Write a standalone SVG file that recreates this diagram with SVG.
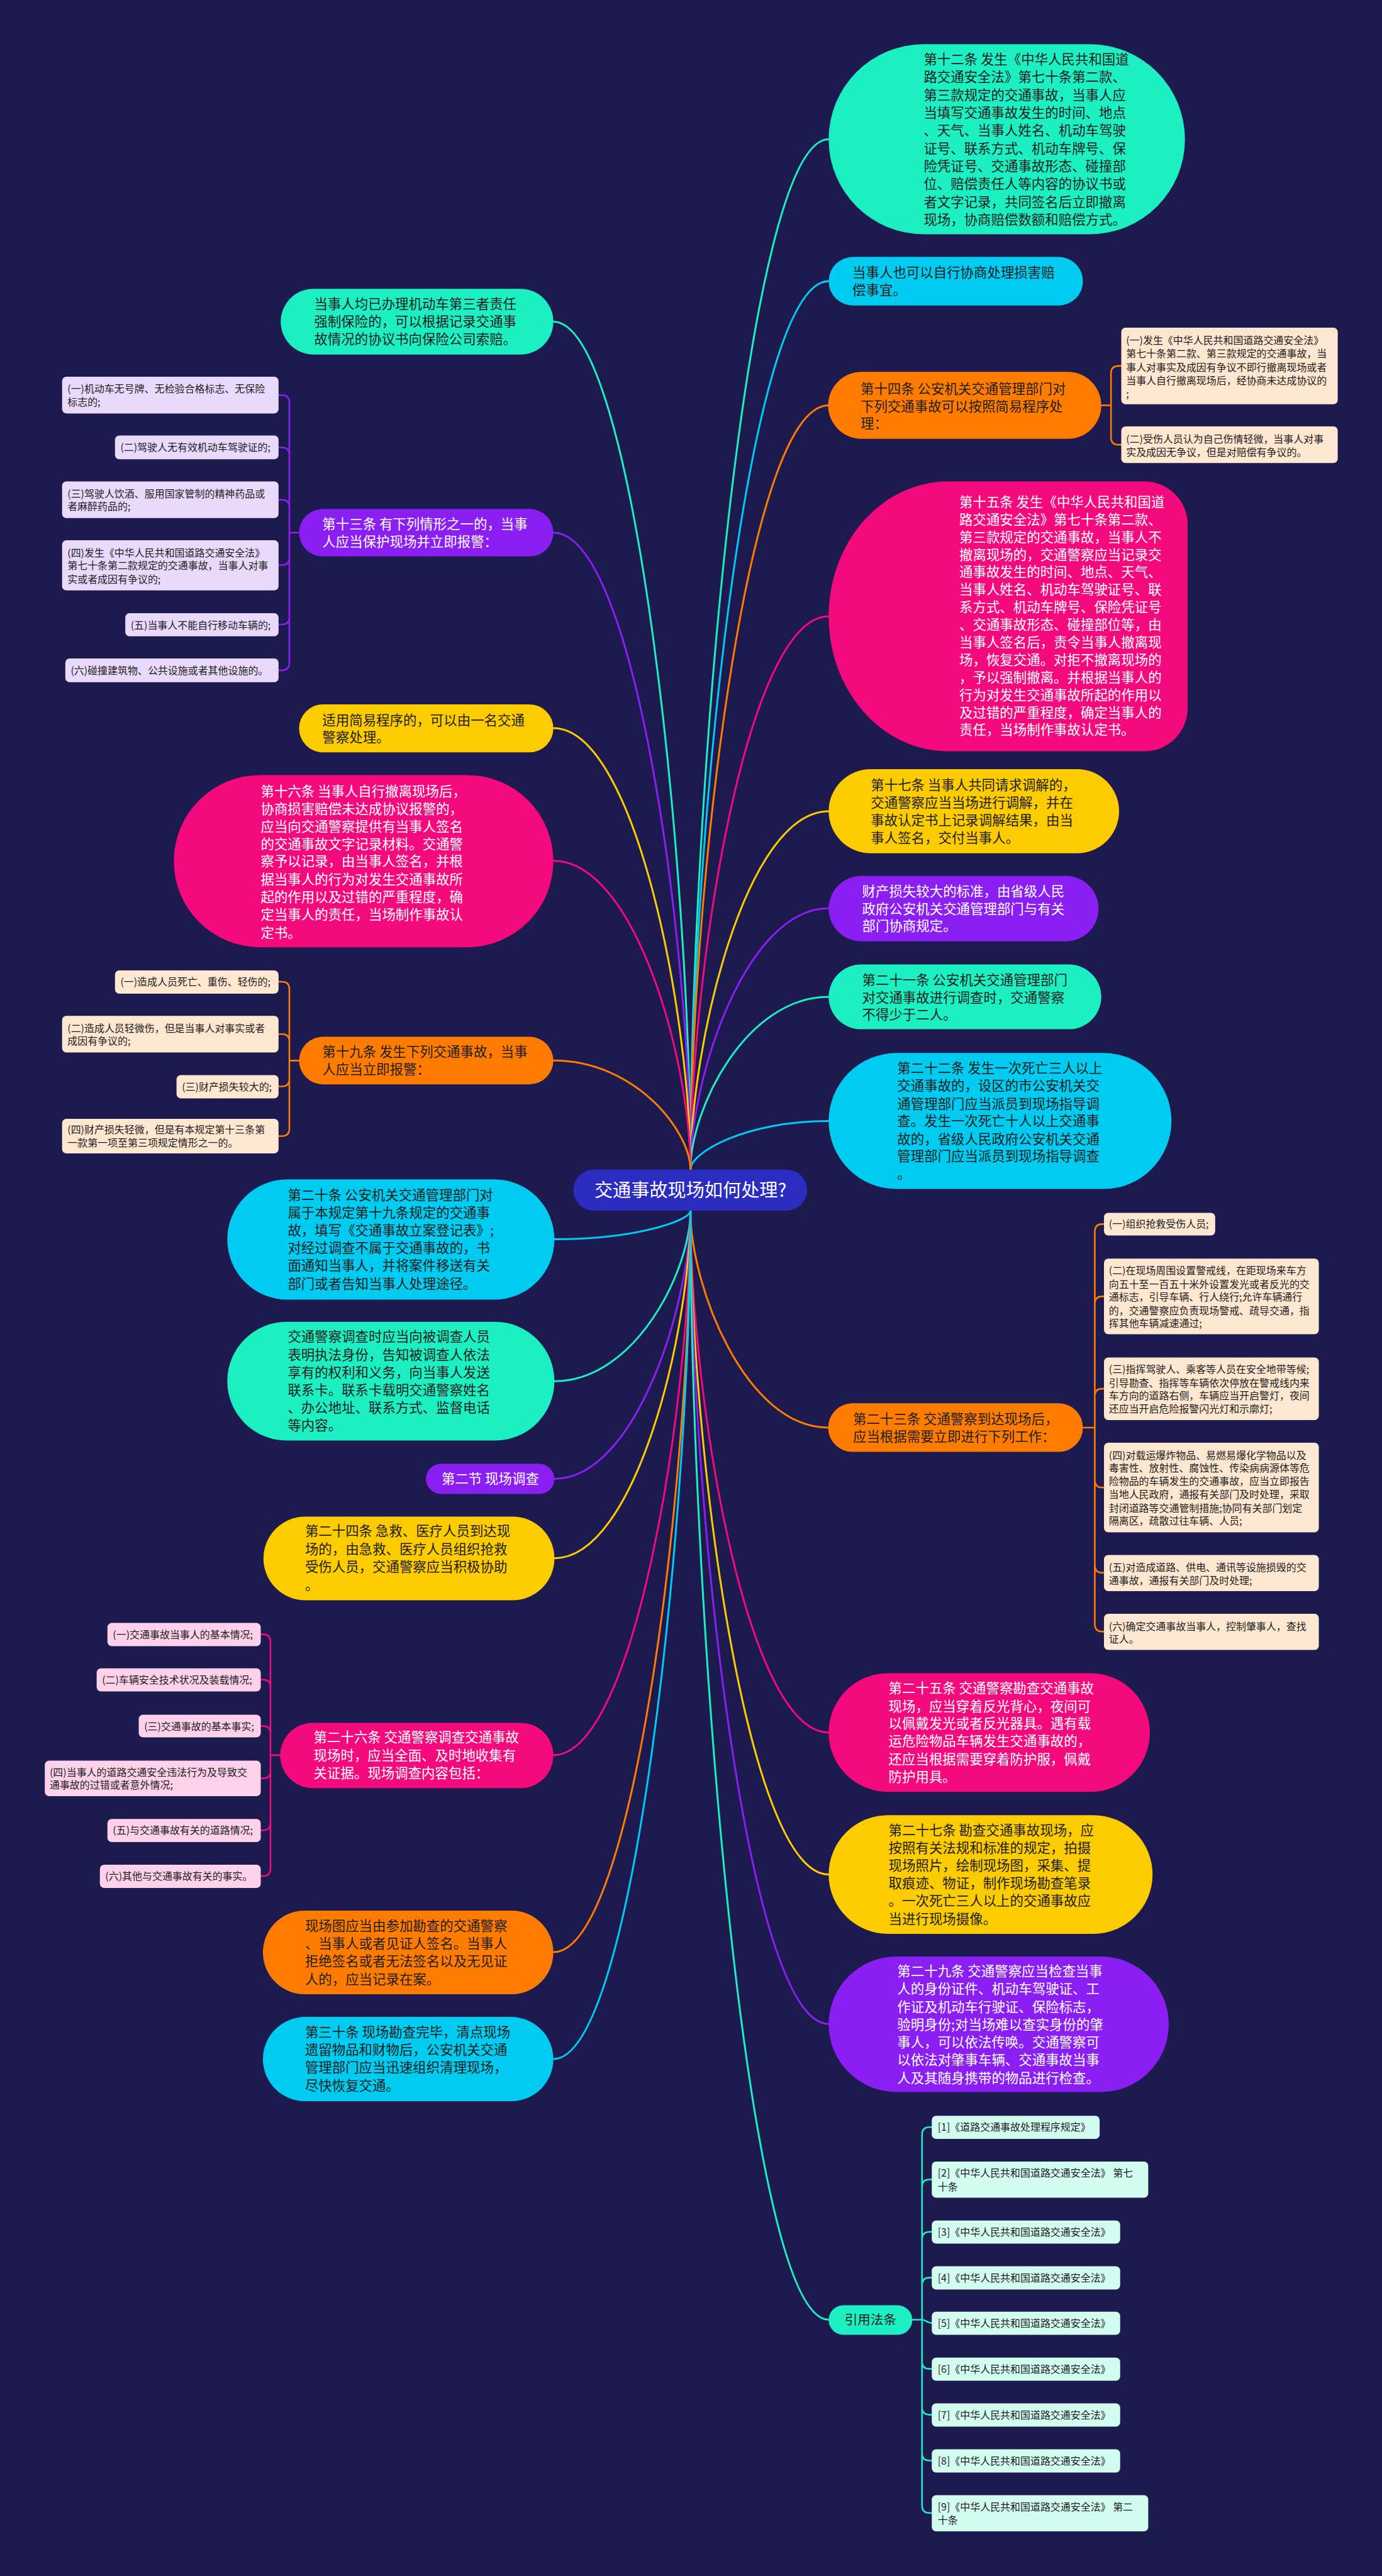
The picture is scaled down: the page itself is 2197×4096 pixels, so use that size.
<svg xmlns="http://www.w3.org/2000/svg" width="2197" height="4096" viewBox="0 0 2197 4096">
<style>
text{font-family:"Noto Sans CJK SC","Microsoft YaHei",sans-serif}
.f25{font-size:25px}.f19{font-size:18.6px}.f24{font-size:24px}.f34{font-size:34px}
.w{fill:#ffffff}.d{fill:#1e1e1e}
.G{fill:#1cf0c2}.C{fill:#00cbf0}.O{fill:#ff7c00}.P{fill:#f50a7d}.Y{fill:#fdcc00}.V{fill:#8b1ef2}
.kO{fill:#fde7d0}.kV{fill:#e9d9fb}.kP{fill:#fdd1ea}.kG{fill:#d3fcf0}
.cn path{fill:none;stroke-width:3.5;stroke-linecap:round}
.ch path{fill:none;stroke-width:3;stroke-linecap:round}
.sG{stroke:#1cf0c2}.sC{stroke:#00cbf0}.sO{stroke:#ff7c00}.sP{stroke:#f50a7d}.sY{stroke:#fdcc00}.sV{stroke:#8b1ef2}
</style>
<rect width="2197" height="4096" fill="#1c1a4f"/>
<g transform="scale(0.858203)">
<g id="connectors" class="cn">
<path class="sG" d="M1279,2167 C1279,1499 1381,258 1535,258"/>
<path class="sC" d="M1279,2167 C1279,1591 1381,521 1535,521"/>
<path class="sO" d="M1279,2167 C1279,1671 1381,751 1535,751"/>
<path class="sP" d="M1279,2167 C1279,1808 1381,1142 1535,1142"/>
<path class="sY" d="M1279,2167 C1279,1935 1381,1503 1535,1503"/>
<path class="sV" d="M1279,2167 C1279,1998 1381,1683 1535,1683"/>
<path class="sG" d="M1279,2167 C1279,2055 1381,1847 1535,1847"/>
<path class="sC" d="M1279,2167 C1279,2135 1381,2077 1535,2077"/>
<path class="sO" d="M1279,2243 C1279,2384 1381,2645 1534,2645"/>
<path class="sP" d="M1279,2243 C1279,2581 1381,3210 1535,3210"/>
<path class="sY" d="M1279,2243 C1279,2673 1381,3473 1535,3473"/>
<path class="sV" d="M1279,2243 C1279,2771 1381,3750 1535,3750"/>
<path class="sG" d="M1279,2243 C1279,2962 1381,4298 1535,4298"/>
<path class="sG" d="M1279,2167 C1279,1617 1177,596 1025,596"/>
<path class="sV" d="M1279,2167 C1279,1754 1177,987 1025,987"/>
<path class="sY" d="M1279,2167 C1279,1881 1177,1349 1025,1349"/>
<path class="sP" d="M1279,2167 C1279,1967 1177,1595 1025,1595"/>
<path class="sO" d="M1279,2167 C1279,2096 1177,1965 1025,1965"/>
<path class="sC" d="M1279,2243 C1279,2262 1177,2296 1027,2296"/>
<path class="sG" d="M1279,2243 C1279,2354 1177,2559 1027,2559"/>
<path class="sV" d="M1279,2243 C1279,2417 1177,2740 1027,2740"/>
<path class="sY" d="M1279,2243 C1279,2469 1177,2887 1027,2887"/>
<path class="sP" d="M1279,2243 C1279,2596 1177,3252 1025,3252"/>
<path class="sO" d="M1279,2243 C1279,2724 1177,3617 1025,3617"/>
<path class="sC" d="M1279,2243 C1279,2793 1177,3815 1025,3815"/>
</g>
<g id="child-connectors" class="ch">
<path class="sO" d="M2040,751 H2058 M2058,751 V692 Q2058,678 2072,678 H2077 M2058,751 V810 Q2058,824 2072,824 H2077"/>
<path class="sO" d="M2006,2645 H2028 M2028,2645 V2282 Q2028,2268 2042,2268 H2045 M2028,2645 V2416 Q2028,2402 2042,2402 H2045 M2028,2645 V2587 Q2028,2573 2042,2573 H2045 M2028,2645 V2742 Q2028,2756 2042,2756 H2045 M2028,2645 V2900 Q2028,2914 2042,2914 H2045 M2028,2645 V3009 Q2028,3023 2042,3023 H2045"/>
<path class="sG" d="M1690,4298 H1708 M1708,4298 V3955 Q1708,3941 1722,3941 H1726 M1708,4298 V4052 Q1708,4038 1722,4038 H1726 M1708,4298 V4149 Q1708,4135 1722,4135 H1726 M1708,4298 V4234 Q1708,4220 1722,4220 H1726 M1708,4298 C1716,4298 1716,4304 1726,4304 M1708,4298 V4375 Q1708,4389 1722,4389 H1726 M1708,4298 V4460 Q1708,4474 1722,4474 H1726 M1708,4298 V4545 Q1708,4559 1722,4559 H1726 M1708,4298 V4642 Q1708,4656 1722,4656 H1726"/>
<path class="sV" d="M554,987 H536 M536,987 V746 Q536,732 522,732 H516 M536,987 V843 Q536,829 522,829 H516 M536,987 V940 Q536,926 522,926 H516 M536,987 V1033 Q536,1047 522,1047 H516 M536,987 V1143 Q536,1157 522,1157 H516 M536,987 V1228 Q536,1242 522,1242 H516"/>
<path class="sO" d="M554,1965 H536 M536,1965 V1833 Q536,1819 522,1819 H516 M536,1965 V1930 Q536,1916 522,1916 H516 M536,1965 V1999 Q536,2013 522,2013 H516 M536,1965 V2091 Q536,2105 522,2105 H516"/>
<path class="sP" d="M519,3252 H501 M501,3252 V3042 Q501,3028 487,3028 H483 M501,3252 V3126 Q501,3112 487,3112 H483 M501,3252 V3212 Q501,3198 487,3198 H483 M501,3252 V3281 Q501,3295 487,3295 H483 M501,3252 V3377 Q501,3391 487,3391 H483 M501,3252 V3462 Q501,3476 487,3476 H483"/>
</g>

<g id="center">
<rect x="1062" y="2167" width="433" height="76" rx="38" fill="#2b2cc0"/>
<text class="f34 w" x="1279" y="2217" text-anchor="middle">交通事故现场如何处理?</text>
</g>

<g id="r1">
<rect class="G" x="1535" y="82" width="660" height="352" rx="176"/>
<text class="f25 d" x="1711"><tspan x="1711" y="119">第十二条 发生《中华人民共和国道</tspan><tspan x="1711" y="152">路交通安全法》第七十条第二款、</tspan><tspan x="1711" y="185">第三款规定的交通事故，当事人应</tspan><tspan x="1711" y="218">当填写交通事故发生的时间、地点</tspan><tspan x="1711" y="251">、天气、当事人姓名、机动车驾驶</tspan><tspan x="1711" y="284">证号、联系方式、机动车牌号、保</tspan><tspan x="1711" y="317">险凭证号、交通事故形态、碰撞部</tspan><tspan x="1711" y="350">位、赔偿责任人等内容的协议书或</tspan><tspan x="1711" y="383">者文字记录，共同签名后立即撤离</tspan><tspan x="1711" y="416">现场，协商赔偿数额和赔偿方式。</tspan></text>
</g>
<g id="r2">
<rect class="C" x="1535" y="476" width="471" height="90" rx="45"/>
<text class="f25 d"><tspan x="1579" y="514">当事人也可以自行协商处理损害赔</tspan><tspan x="1579" y="547">偿事宜。</tspan></text>
</g>
<g id="r3">
<rect class="O" x="1534" y="689" width="506" height="124" rx="62"/>
<text class="f25 d"><tspan x="1594" y="729">第十四条 公安机关交通管理部门对</tspan><tspan x="1594" y="761.5">下列交通事故可以按照简易程序处</tspan><tspan x="1594" y="794">理：</tspan></text>
</g>
<g id="r3a">
<rect class="kO" x="2077" y="607" width="401" height="142" rx="8"/>
<text class="f19 d"><tspan x="2086" y="637">(一)发生《中华人民共和国道路交通安全法》</tspan><tspan x="2086" y="662">第七十条第二款、第三款规定的交通事故，当</tspan><tspan x="2086" y="687">事人对事实及成因有争议不即行撤离现场或者</tspan><tspan x="2086" y="712">当事人自行撤离现场后，经协商未达成协议的</tspan><tspan x="2086" y="737">;</tspan></text>
</g>
<g id="r3b">
<rect class="kO" x="2077" y="790" width="401" height="68" rx="8"/>
<text class="f19 d"><tspan x="2086" y="820">(二)受伤人员认为自己伤情轻微，当事人对事</tspan><tspan x="2086" y="845">实及成因无争议，但是对赔偿有争议的。</tspan></text>
</g>
<g id="r4">
<path class="P" d="M1756,892 H2120 A80,80 0 0 1 2200,972 V1312 A80,80 0 0 1 2120,1392 H1756 A221,250 0 0 1 1535,1142 A221,250 0 0 1 1756,892 Z"/>
<text class="f25 w"><tspan x="1777" y="939">第十五条 发生《中华人民共和国道</tspan><tspan x="1777" y="971.5">路交通安全法》第七十条第二款、</tspan><tspan x="1777" y="1004">第三款规定的交通事故，当事人不</tspan><tspan x="1777" y="1036.5">撤离现场的，交通警察应当记录交</tspan><tspan x="1777" y="1069">通事故发生的时间、地点、天气、</tspan><tspan x="1777" y="1101.5">当事人姓名、机动车驾驶证号、联</tspan><tspan x="1777" y="1134">系方式、机动车牌号、保险凭证号</tspan><tspan x="1777" y="1166.5">、交通事故形态、碰撞部位等，由</tspan><tspan x="1777" y="1199">当事人签名后，责令当事人撤离现</tspan><tspan x="1777" y="1231.5">场，恢复交通。对拒不撤离现场的</tspan><tspan x="1777" y="1264">，予以强制撤离。并根据当事人的</tspan><tspan x="1777" y="1296.5">行为对发生交通事故所起的作用以</tspan><tspan x="1777" y="1329">及过错的严重程度，确定当事人的</tspan><tspan x="1777" y="1361.5">责任，当场制作事故认定书。</tspan></text>
</g>
<g id="r5">
<rect class="Y" x="1535" y="1425" width="538" height="156" rx="78"/>
<text class="f25 d"><tspan x="1613" y="1464">第十七条 当事人共同请求调解的，</tspan><tspan x="1613" y="1496.5">交通警察应当当场进行调解，并在</tspan><tspan x="1613" y="1529">事故认定书上记录调解结果，由当</tspan><tspan x="1613" y="1561.5">事人签名，交付当事人。</tspan></text>
</g>
<g id="r6">
<rect class="V" x="1535" y="1623" width="500" height="121" rx="60.5"/>
<text class="f25 w"><tspan x="1597" y="1660">财产损失较大的标准，由省级人民</tspan><tspan x="1597" y="1692.5">政府公安机关交通管理部门与有关</tspan><tspan x="1597" y="1725">部门协商规定。</tspan></text>
</g>
<g id="r7">
<rect class="G" x="1535" y="1787" width="505" height="120" rx="60"/>
<text class="f25 d"><tspan x="1597" y="1825">第二十一条 公安机关交通管理部门</tspan><tspan x="1597" y="1857">对交通事故进行调查时，交通警察</tspan><tspan x="1597" y="1889">不得少于二人。</tspan></text>
</g>
<g id="r8">
<rect class="C" x="1535" y="1951" width="635" height="252" rx="126"/>
<text class="f25 d"><tspan x="1662" y="1988">第二十二条 发生一次死亡三人以上</tspan><tspan x="1662" y="2021">交通事故的，设区的市公安机关交</tspan><tspan x="1662" y="2054">通管理部门应当派员到现场指导调</tspan><tspan x="1662" y="2086">查。发生一次死亡十人以上交通事</tspan><tspan x="1662" y="2119">故的，省级人民政府公安机关交通</tspan><tspan x="1662" y="2151.5">管理部门应当派员到现场指导调查</tspan><tspan x="1662" y="2184">。</tspan></text>
</g>
<g id="r9">
<rect class="O" x="1534" y="2600" width="472" height="90" rx="45"/>
<text class="f25 d"><tspan x="1580" y="2638">第二十三条 交通警察到达现场后，</tspan><tspan x="1580" y="2671">应当根据需要立即进行下列工作：</tspan></text>
</g>
<g id="r9c1">
<rect class="kO" x="2045" y="2247" width="206" height="42" rx="8"/>
<text class="f19 d" x="2054" y="2275">(一)组织抢救受伤人员;</text>
</g>
<g id="r9c2">
<rect class="kO" x="2045" y="2332" width="398" height="140" rx="8"/>
<text class="f19 d"><tspan x="2054" y="2361">(二)在现场周围设置警戒线，在距现场来车方</tspan><tspan x="2054" y="2386">向五十至一百五十米外设置发光或者反光的交</tspan><tspan x="2054" y="2410">通标志，引导车辆、行人绕行;允许车辆通行</tspan><tspan x="2054" y="2435">的，交通警察应负责现场警戒、疏导交通，指</tspan><tspan x="2054" y="2459">挥其他车辆减速通过;</tspan></text>
</g>
<g id="r9c3">
<rect class="kO" x="2045" y="2515" width="398" height="116" rx="8"/>
<text class="f19 d"><tspan x="2054" y="2544">(三)指挥驾驶人、乘客等人员在安全地带等候;</tspan><tspan x="2054" y="2569">引导勘查、指挥等车辆依次停放在警戒线内来</tspan><tspan x="2054" y="2593">车方向的道路右侧，车辆应当开启警灯，夜间</tspan><tspan x="2054" y="2617">还应当开启危险报警闪光灯和示廓灯;</tspan></text>
</g>
<g id="r9c4">
<rect class="kO" x="2045" y="2673" width="398" height="166" rx="8"/>
<text class="f19 d"><tspan x="2054" y="2703">(四)对载运爆炸物品、易燃易爆化学物品以及</tspan><tspan x="2054" y="2727">毒害性、放射性、腐蚀性、传染病病源体等危</tspan><tspan x="2054" y="2751">险物品的车辆发生的交通事故，应当立即报告</tspan><tspan x="2054" y="2776">当地人民政府，通报有关部门及时处理，采取</tspan><tspan x="2054" y="2801">封闭道路等交通管制措施;协同有关部门划定</tspan><tspan x="2054" y="2825">隔离区，疏散过往车辆、人员;</tspan></text>
</g>
<g id="r9c5">
<rect class="kO" x="2045" y="2881" width="398" height="67" rx="8"/>
<text class="f19 d"><tspan x="2054" y="2911">(五)对造成道路、供电、通讯等设施损毁的交</tspan><tspan x="2054" y="2935">通事故，通报有关部门及时处理;</tspan></text>
</g>
<g id="r9c6">
<rect class="kO" x="2045" y="2990" width="398" height="67" rx="8"/>
<text class="f19 d"><tspan x="2054" y="3020">(六)确定交通事故当事人，控制肇事人，查找</tspan><tspan x="2054" y="3043">证人。</tspan></text>
</g>
<g id="r10">
<rect class="P" x="1535" y="3100" width="595" height="220" rx="110"/>
<text class="f25 w"><tspan x="1646" y="3137">第二十五条 交通警察勘查交通事故</tspan><tspan x="1646" y="3170">现场，应当穿着反光背心，夜间可</tspan><tspan x="1646" y="3202.5">以佩戴发光或者反光器具。遇有载</tspan><tspan x="1646" y="3235">运危险物品车辆发生交通事故的，</tspan><tspan x="1646" y="3268">还应当根据需要穿着防护服，佩戴</tspan><tspan x="1646" y="3301">防护用具。</tspan></text>
</g>
<g id="r11">
<rect class="Y" x="1535" y="3363" width="600" height="220" rx="110"/>
<text class="f25 d"><tspan x="1646" y="3400">第二十七条 勘查交通事故现场，应</tspan><tspan x="1646" y="3433">按照有关法规和标准的规定，拍摄</tspan><tspan x="1646" y="3465.5">现场照片，绘制现场图，采集、提</tspan><tspan x="1646" y="3498">取痕迹、物证，制作现场勘查笔录</tspan><tspan x="1646" y="3531">。一次死亡三人以上的交通事故应</tspan><tspan x="1646" y="3564">当进行现场摄像。</tspan></text>
</g>
<g id="r12">
<rect class="V" x="1535" y="3625" width="630" height="251" rx="125.5"/>
<text class="f25 w"><tspan x="1662" y="3661">第二十九条 交通警察应当检查当事</tspan><tspan x="1662" y="3694">人的身份证件、机动车驾驶证、工</tspan><tspan x="1662" y="3727">作证及机动车行驶证、保险标志，</tspan><tspan x="1662" y="3760">验明身份;对当场难以查实身份的肇</tspan><tspan x="1662" y="3793">事人，可以依法传唤。交通警察可</tspan><tspan x="1662" y="3826">以依法对肇事车辆、交通事故当事</tspan><tspan x="1662" y="3859">人及其随身携带的物品进行检查。</tspan></text>
</g>
<g id="r13">
<rect class="G" x="1535" y="4271" width="155" height="55" rx="27.5"/>
<text class="f24 d" x="1612.5" y="4307" text-anchor="middle">引用法条</text>
</g>
<g id="ref1"><rect class="kG" x="1726" y="3920" width="311" height="43" rx="8"/><text class="f19 d" x="1737" y="3948">[1]《道路交通事故处理程序规定》</text></g>
<g id="ref2"><rect class="kG" x="1726" y="4005" width="401" height="67" rx="8"/><text class="f19 d"><tspan x="1737" y="4033">[2]《中华人民共和国道路交通安全法》 第七</tspan><tspan x="1737" y="4058">十条</tspan></text></g>
<g id="ref3"><rect class="kG" x="1726" y="4114" width="349" height="43" rx="8"/><text class="f19 d" x="1737" y="4142">[3]《中华人民共和国道路交通安全法》</text></g>
<g id="ref4"><rect class="kG" x="1726" y="4199" width="349" height="43" rx="8"/><text class="f19 d" x="1737" y="4227">[4]《中华人民共和国道路交通安全法》</text></g>
<g id="ref5"><rect class="kG" x="1726" y="4283" width="349" height="43" rx="8"/><text class="f19 d" x="1737" y="4311">[5]《中华人民共和国道路交通安全法》</text></g>
<g id="ref6"><rect class="kG" x="1726" y="4368" width="349" height="43" rx="8"/><text class="f19 d" x="1737" y="4396">[6]《中华人民共和国道路交通安全法》</text></g>
<g id="ref7"><rect class="kG" x="1726" y="4453" width="349" height="43" rx="8"/><text class="f19 d" x="1737" y="4481">[7]《中华人民共和国道路交通安全法》</text></g>
<g id="ref8"><rect class="kG" x="1726" y="4538" width="349" height="43" rx="8"/><text class="f19 d" x="1737" y="4566">[8]《中华人民共和国道路交通安全法》</text></g>
<g id="ref9"><rect class="kG" x="1726" y="4623" width="401" height="67" rx="8"/><text class="f19 d"><tspan x="1737" y="4651">[9]《中华人民共和国道路交通安全法》 第二</tspan><tspan x="1737" y="4676">十条</tspan></text></g>

<g id="l1">
<rect class="G" x="520" y="535" width="505" height="122" rx="61"/>
<text class="f25 d"><tspan x="582" y="572">当事人均已办理机动车第三者责任</tspan><tspan x="582" y="604.5">强制保险的，可以根据记录交通事</tspan><tspan x="582" y="637">故情况的协议书向保险公司索赔。</tspan></text>
</g>
<g id="l2">
<rect class="V" x="554" y="943" width="471" height="88" rx="44"/>
<text class="f25 w"><tspan x="597" y="980">第十三条 有下列情形之一的，当事</tspan><tspan x="597" y="1013">人应当保护现场并立即报警：</tspan></text>
</g>
<g id="l2c1"><rect class="kV" x="115" y="698" width="401" height="68" rx="8"/><text class="f19 d"><tspan x="125" y="727">(一)机动车无号牌、无检验合格标志、无保险</tspan><tspan x="125" y="751">标志的;</tspan></text></g>
<g id="l2c2"><rect class="kV" x="213" y="807" width="303" height="44" rx="8"/><text class="f19 d" x="223" y="836">(二)驾驶人无有效机动车驾驶证的;</text></g>
<g id="l2c3"><rect class="kV" x="115" y="892" width="401" height="68" rx="8"/><text class="f19 d"><tspan x="125" y="922">(三)驾驶人饮酒、服用国家管制的精神药品或</tspan><tspan x="125" y="945">者麻醉药品的;</tspan></text></g>
<g id="l2c4"><rect class="kV" x="115" y="1001" width="401" height="93" rx="8"/><text class="f19 d"><tspan x="125" y="1031">(四)发生《中华人民共和国道路交通安全法》</tspan><tspan x="125" y="1055">第七十条第二款规定的交通事故，当事人对事</tspan><tspan x="125" y="1080">实或者成因有争议的;</tspan></text></g>
<g id="l2c5"><rect class="kV" x="232" y="1136" width="284" height="43" rx="8"/><text class="f19 d" x="242" y="1165">(五)当事人不能自行移动车辆的;</text></g>
<g id="l2c6"><rect class="kV" x="121" y="1220" width="395" height="44" rx="8"/><text class="f19 d" x="131" y="1249">(六)碰撞建筑物、公共设施或者其他设施的。</text></g>
<g id="l3">
<rect class="Y" x="554" y="1305" width="471" height="89" rx="44.5"/>
<text class="f25 d"><tspan x="597" y="1343">适用简易程序的，可以由一名交通</tspan><tspan x="597" y="1375">警察处理。</tspan></text>
</g>
<g id="l4">
<rect class="P" x="322" y="1436" width="703" height="319" rx="159.5"/>
<text class="f25 w"><tspan x="483" y="1475">第十六条 当事人自行撤离现场后，</tspan><tspan x="483" y="1508">协商损害赔偿未达成协议报警的，</tspan><tspan x="483" y="1540">应当向交通警察提供有当事人签名</tspan><tspan x="483" y="1573">的交通事故文字记录材料。交通警</tspan><tspan x="483" y="1605">察予以记录，由当事人签名，并根</tspan><tspan x="483" y="1638">据当事人的行为对发生交通事故所</tspan><tspan x="483" y="1671">起的作用以及过错的严重程度，确</tspan><tspan x="483" y="1704">定当事人的责任，当场制作事故认</tspan><tspan x="483" y="1737">定书。</tspan></text>
</g>
<g id="l5">
<rect class="O" x="554" y="1921" width="471" height="88" rx="44"/>
<text class="f25 d"><tspan x="597" y="1958">第十九条 发生下列交通事故，当事</tspan><tspan x="597" y="1990">人应当立即报警：</tspan></text>
</g>
<g id="l5c1"><rect class="kO" x="213" y="1798" width="303" height="43" rx="8"/><text class="f19 d" x="223" y="1826">(一)造成人员死亡、重伤、轻伤的;</text></g>
<g id="l5c2"><rect class="kO" x="115" y="1882" width="401" height="68" rx="8"/><text class="f19 d"><tspan x="125" y="1912">(二)造成人员轻微伤，但是当事人对事实或者</tspan><tspan x="125" y="1936">成因有争议的;</tspan></text></g>
<g id="l5c3"><rect class="kO" x="327" y="1992" width="189" height="43" rx="8"/><text class="f19 d" x="337" y="2020">(三)财产损失较大的;</text></g>
<g id="l5c4"><rect class="kO" x="115" y="2073" width="401" height="64" rx="8"/><text class="f19 d"><tspan x="125" y="2100">(四)财产损失轻微，但是有本规定第十三条第</tspan><tspan x="125" y="2124">一款第一项至第三项规定情形之一的。</tspan></text></g>
<g id="l6">
<rect class="C" x="421" y="2185" width="606" height="223" rx="111.5"/>
<text class="f25 d"><tspan x="533" y="2223">第二十条 公安机关交通管理部门对</tspan><tspan x="533" y="2256">属于本规定第十九条规定的交通事</tspan><tspan x="533" y="2288.5">故，填写《交通事故立案登记表》;</tspan><tspan x="533" y="2321.5">对经过调查不属于交通事故的，书</tspan><tspan x="533" y="2354">面通知当事人，并将案件移送有关</tspan><tspan x="533" y="2387">部门或者告知当事人处理途径。</tspan></text>
</g>
<g id="l7">
<rect class="G" x="421" y="2449" width="606" height="220" rx="110"/>
<text class="f25 d"><tspan x="533" y="2486">交通警察调查时应当向被调查人员</tspan><tspan x="533" y="2519">表明执法身份，告知被调查人依法</tspan><tspan x="533" y="2552">享有的权利和义务，向当事人发送</tspan><tspan x="533" y="2585">联系卡。联系卡载明交通警察姓名</tspan><tspan x="533" y="2617">、办公地址、联系方式、监督电话</tspan><tspan x="533" y="2650">等内容。</tspan></text>
</g>
<g id="l8">
<rect class="V" x="789" y="2712" width="238" height="56" rx="28"/>
<text class="f25 w" x="818" y="2749">第二节 现场调查</text>
</g>
<g id="l9">
<rect class="Y" x="488" y="2810" width="539" height="155" rx="77.5"/>
<text class="f25 d"><tspan x="565" y="2846">第二十四条 急救、医疗人员到达现</tspan><tspan x="565" y="2879">场的，由急救、医疗人员组织抢救</tspan><tspan x="565" y="2912">受伤人员，交通警察应当积极协助</tspan><tspan x="565" y="2946">。</tspan></text>
</g>
<g id="l10">
<rect class="P" x="519" y="3192" width="506" height="121" rx="60.5"/>
<text class="f25 w"><tspan x="581" y="3228">第二十六条 交通警察调查交通事故</tspan><tspan x="581" y="3261">现场时，应当全面、及时地收集有</tspan><tspan x="581" y="3294">关证据。现场调查内容包括：</tspan></text>
</g>
<g id="l10c1"><rect class="kP" x="199" y="3007" width="284" height="43" rx="8"/><text class="f19 d" x="209" y="3035">(一)交通事故当事人的基本情况;</text></g>
<g id="l10c2"><rect class="kP" x="179" y="3091" width="304" height="43" rx="8"/><text class="f19 d" x="189" y="3119">(二)车辆安全技术状况及装载情况;</text></g>
<g id="l10c3"><rect class="kP" x="257" y="3177" width="226" height="42" rx="8"/><text class="f19 d" x="267" y="3205">(三)交通事故的基本事实;</text></g>
<g id="l10c4"><rect class="kP" x="83" y="3262" width="400" height="66" rx="8"/><text class="f19 d"><tspan x="92" y="3291">(四)当事人的道路交通安全违法行为及导致交</tspan><tspan x="92" y="3314">通事故的过错或者意外情况;</tspan></text></g>
<g id="l10c5"><rect class="kP" x="199" y="3370" width="284" height="43" rx="8"/><text class="f19 d" x="209" y="3398">(五)与交通事故有关的道路情况;</text></g>
<g id="l10c6"><rect class="kP" x="185" y="3455" width="298" height="43" rx="8"/><text class="f19 d" x="195" y="3483">(六)其他与交通事故有关的事实。</text></g>
<g id="l11">
<rect class="O" x="487" y="3540" width="538" height="155" rx="77.5"/>
<text class="f25 d"><tspan x="565" y="3577">现场图应当由参加勘查的交通警察</tspan><tspan x="565" y="3610">、当事人或者见证人签名。当事人</tspan><tspan x="565" y="3643">拒绝签名或者无法签名以及无见证</tspan><tspan x="565" y="3676">人的，应当记录在案。</tspan></text>
</g>
<g id="l12">
<rect class="C" x="487" y="3737" width="538" height="156" rx="78"/>
<text class="f25 d"><tspan x="565" y="3774">第三十条 现场勘查完毕，清点现场</tspan><tspan x="565" y="3807">遗留物品和财物后，公安机关交通</tspan><tspan x="565" y="3840">管理部门应当迅速组织清理现场，</tspan><tspan x="565" y="3873">尽快恢复交通。</tspan></text>
</g>
</g>
</svg>
